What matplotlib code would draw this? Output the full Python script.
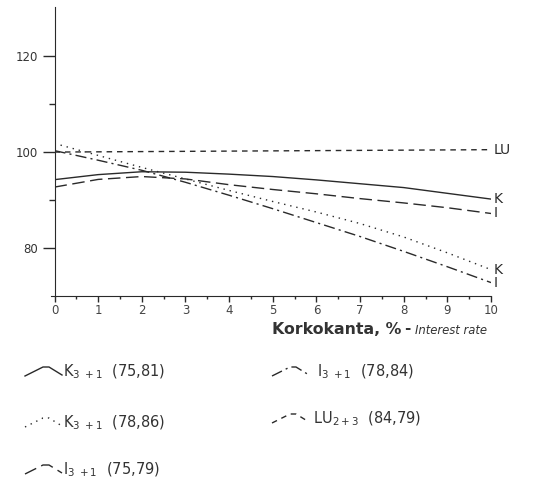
import numpy as np
import matplotlib
matplotlib.use("Agg")
import matplotlib.pyplot as plt
from matplotlib.lines import Line2D

# Interest rate, %
rate = [0, 1, 2, 3, 4, 5, 6, 7, 8, 9, 10]

# Index values for each series
k_75_81 = [94.25, 95.3, 95.9, 95.8, 95.4, 94.9, 94.2, 93.4, 92.6, 91.4, 90.2]
k_78_86 = [101.8, 99.3, 96.8, 94.4, 92.0, 89.7, 87.5, 85.1, 82.3, 79.0, 75.5]
i_75_79 = [92.7, 94.3, 94.9, 94.4, 93.2, 92.2, 91.3, 90.3, 89.4, 88.4, 87.2]
i_78_84 = [100.3, 98.3, 96.2, 93.7, 91.0, 88.2, 85.3, 82.4, 79.3, 76.1, 72.8]
lu_84_79 = [100.0, 100.05, 100.1, 100.15, 100.2, 100.25, 100.3, 100.35, 100.4, 100.45, 100.5]

end_labels = ["LU", "K", "I", "K", "I"]
legend_labels = [r"K$_{3\ +1}$  (75,81)", r"K$_{3\ +1}$  (78,86)", r"I$_{3\ +1}$  (75,79)",
                 r"I$_{3\ +1}$  (78,84)", r"LU$_{2+3}$  (84,79)"]

plt.rcParams['font.family'] = ['DejaVu Sans']
fig = plt.figure(figsize=(5.43, 4.83), dpi=100)
W, H = 543, 483
ax = fig.add_axes([54.5 / W, 1 - 296 / H, (491 - 54.5) / W, (296 - 6.7) / H])

col = "#2a2a2a"
styles = {
    "k1": dict(ls="-", lw=1.0),
    "k2": dict(ls=(0, (1, 3.5)), lw=1.0),
    "i1": dict(ls=(0, (9, 4)), lw=1.0),
    "i2": dict(ls=(0, (8, 3, 1.5, 3)), lw=1.0),
    "lu": dict(ls=(0, (4, 3.5)), lw=1.0),
}

ax.plot(rate, k_75_81, color=col, **styles["k1"])
ax.plot(rate, k_78_86, color=col, **styles["k2"])
ax.plot(rate, i_75_79, color=col, **styles["i1"])
ax.plot(rate, i_78_84, color=col, **styles["i2"])
ax.plot(rate, lu_84_79, color=col, **styles["lu"])

ax.set_xlim(0, 10)
ax.set_ylim(70, 130.3)
for s in ["top", "right"]:
    ax.spines[s].set_visible(False)
ax.spines["left"].set_color(col)
ax.spines["bottom"].set_color(col)
ax.spines["bottom"].set_bounds(-0.07, 10)

ax.set_yticks([80, 100, 120])
ax.set_yticks([90, 110], minor=True)
ax.set_xticks(rate)
ax.set_xticks(np.arange(0.5, 10, 1.0), minor=True)
ax.tick_params(axis="y", which="major", length=9, width=1, color=col, labelsize=8.5,
               labelcolor="#333333", pad=3)
ax.tick_params(axis="y", which="minor", length=4, width=1, color=col)
ax.tick_params(axis="x", which="major", length=4, width=1, color=col, labelsize=8.5,
               labelcolor="#444444", pad=2)
ax.tick_params(axis="x", which="minor", length=2, width=1, color=col)

# End-of-line labels
ends = [lu_84_79[-1], k_75_81[-1], i_75_79[-1], k_78_86[-1], i_78_84[-1]]
for txt, v in zip(end_labels, ends):
    ax.annotate(txt, (10, v), xytext=(2, 0), textcoords="offset points",
                va="center", ha="left", fontsize=10, color=col, annotation_clip=False)

# Axis title
fig.text(272 / W, 1 - 329 / H, "Korkokanta, %", fontsize=11.3, color="#333333",
         va="center", ha="left", fontweight="bold")
fig.text(404 / W, 1 - 328 / H, "-", fontsize=11, color="#333333", va="center",
         ha="left", fontweight="bold")
fig.text(415 / W, 1 - 330 / H, "Interest rate", fontsize=8.4, color="#333333",
         va="center", ha="left", style="italic")

# Legend keys: small arched line samples followed by labels
key_pos = [(25, 372), (25, 423), (25, 470), (272, 372), (272, 419)]
key_text_x = [63, 63, 63, 317, 313]
key_style = ["k1", "k2", "i1", "i2", "lu"]
for (kx, ky), tx, sk, lab in zip(key_pos, key_text_x, key_style, legend_labels):
    xs = np.array([kx, kx + 18, kx + 24, kx + 37]) / W
    ys = 1 - np.array([ky + 4, ky - 5, ky - 5, ky + 3]) / H
    fig.add_artist(Line2D(xs, ys, color=col, transform=fig.transFigure, **styles[sk]))
    fig.text(tx / W, 1 - ky / H, lab, fontsize=10.5, color="#333333",
             va="center", ha="left")

fig.savefig("out.png", dpi=100, facecolor="white")
